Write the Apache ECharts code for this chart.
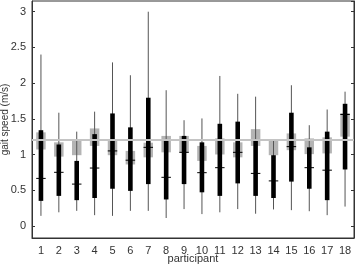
<!DOCTYPE html>
<html>
<head>
<meta charset="utf-8">
<script src="https://cdn.jsdelivr.net/npm/echarts@6/dist/echarts.min.js"></script>
<style>
  html, body { margin: 0; padding: 0; background: #fff; }
  #chart { width: 358px; height: 264px; }
</style>
</head>
<body>
<div id="chart"></div>
<script>
// participants along the x axis
var participants = ['1','2','3','4','5','6','7','8','9','10','11','12','13','14','15','16','17','18'];

// thin whiskers (min / max)
var whiskerLow  = [0.14, 0.19, 0.21, 0.15, 0.14, 0.21, 0.21, 0.11, 0.235, 0.165, 0.19, 0.235, 0.17, 0.23, 0.22, 0.205, 0.15, 0.27];
var whiskerHigh = [2.40, 1.585, 1.32, 1.60, 2.29, 2.11, 3.00, 1.90, 1.48, 1.505, 2.10, 1.85, 1.81, 1.21, 1.97, 1.41, 1.63, 1.88];

// black boxes
var boxLow  = [0.35, 0.42, 0.36, 0.39, 0.52, 0.49, 0.585, 0.37, 0.585, 0.47, 0.42, 0.595, 0.42, 0.39, 0.62, 0.52, 0.36, 0.79];
var boxHigh = [1.34, 1.14, 0.91, 1.285, 1.575, 1.38, 1.795, 1.20, 1.26, 1.17, 1.43, 1.46, 1.19, 0.99, 1.585, 1.10, 1.32, 1.71];
var medians = [0.665, 0.75, 0.585, 0.81, 1.05, 0.92, 1.10, 0.68, 1.03, 0.745, 0.815, 1.03, 0.735, 0.63, 1.11, 0.815, 0.78, 1.56];

// wide gray boxes
var grayLow  = [1.07, 0.97, 0.99, 1.12, 0.99, 0.86, 0.96, 1.03, 1.03, 0.91, 1.00, 0.96, 1.12, 0.99, 1.06, 1.005, 1.015, 1.25];
var grayHigh = [1.31, 1.17, 1.20, 1.365, 1.21, 1.05, 1.165, 1.26, 1.26, 1.12, 1.225, 1.17, 1.355, 1.21, 1.295, 1.225, 1.24, 1.58];

// gray reference line
var refSpeed = 1.2;

var yMin = -0.17, yMax = 3.15;

var myChart = echarts.init(document.getElementById('chart'));

var grayData = [], blackData = [];
for (var i = 0; i < participants.length; i++) {
  grayData.push([i, grayLow[i], grayHigh[i]]);
  blackData.push([i, whiskerLow[i], whiskerHigh[i], boxLow[i], boxHigh[i], medians[i]]);
}

function renderGray(params, api) {
  var lo = api.coord([api.value(0), api.value(1)]);
  var hi = api.coord([api.value(0), api.value(2)]);
  var w = 9.5;
  return {
    type: 'rect',
    shape: { x: lo[0] - w / 2, y: hi[1], width: w, height: lo[1] - hi[1] },
    style: { fill: '#b4b4b4' }
  };
}

function renderBlack(params, api) {
  var x = api.value(0);
  var wl = api.coord([x, api.value(1)]);
  var wh = api.coord([x, api.value(2)]);
  var bl = api.coord([x, api.value(3)]);
  var bh = api.coord([x, api.value(4)]);
  var md = api.coord([x, api.value(5)]);
  var bw = 4.6, mw = 9.5;
  return {
    type: 'group',
    children: [
      {
        type: 'line',
        shape: { x1: wl[0], y1: wl[1], x2: wh[0], y2: wh[1] },
        style: { stroke: '#555', lineWidth: 1 }
      },
      {
        type: 'rect',
        shape: { x: bl[0] - bw / 2, y: bh[1], width: bw, height: bl[1] - bh[1] },
        style: { fill: '#000' }
      },
      {
        type: 'line',
        shape: { x1: md[0] - mw / 2, y1: md[1], x2: md[0] + mw / 2, y2: md[1] },
        style: { stroke: '#000', lineWidth: 1 }
      }
    ]
  };
}

var option = {
  animation: false,
  grid: {
    left: 32, right: 4, top: 1, bottom: 26,
    outerBoundsMode: 'none',
    show: true, borderColor: '#333', borderWidth: 1
  },
  xAxis: {
    type: 'category',
    data: participants,
    boundaryGap: true,
    name: 'participant',
    nameLocation: 'middle',
    nameGap: 15,
    nameMoveOverlap: false,
    nameTextStyle: { color: '#333', fontSize: 11, fontFamily: 'Liberation Sans' },
    axisLine: { show: true, onZero: false, lineStyle: { color: '#333' } },
    axisTick: { show: false },
    axisLabel: { color: '#333', fontSize: 11, fontFamily: 'Liberation Sans', margin: 7, interval: 0 },
    splitLine: { show: false }
  },
  yAxis: [{
    type: 'value',
    min: yMin,
    max: yMax,
    splitNumber: 5,
    name: 'gait speed (m/s)',
    nameLocation: 'middle',
    nameGap: 22,
    nameMoveOverlap: false,
    nameTextStyle: { color: '#333', fontSize: 10, fontFamily: 'Liberation Sans' },
    axisLine: { show: true, lineStyle: { color: '#333' } },
    axisTick: { show: true, inside: true, length: 3, lineStyle: { color: '#333' } },
    axisLabel: { color: '#333', fontSize: 11, fontFamily: 'Liberation Sans', margin: 6, showMinLabel: false, showMaxLabel: false },
    splitLine: { show: false }
  }, {
    type: 'value',
    position: 'right',
    min: yMin,
    max: yMax,
    splitNumber: 5,
    axisLine: { show: true, lineStyle: { color: '#333' } },
    axisTick: { show: true, inside: true, length: 3, lineStyle: { color: '#333' } },
    axisLabel: { show: false },
    splitLine: { show: false }
  }],
  series: [
    {
      type: 'custom',
      renderItem: renderGray,
      data: grayData,
      encode: { x: 0, y: [1, 2] },
      z: 1,
      markLine: {
        silent: true,
        symbol: 'none',
        label: { show: false },
        lineStyle: { color: '#c4c4c4', width: 2, type: 'solid' },
        data: [{ yAxis: refSpeed }]
      }
    },
    {
      type: 'custom',
      renderItem: renderBlack,
      data: blackData,
      encode: { x: 0, y: [1, 2] },
      z: 3
    }
  ]
};

myChart.setOption(option);
window.onresize = myChart.resize;
</script>
</body>
</html>
